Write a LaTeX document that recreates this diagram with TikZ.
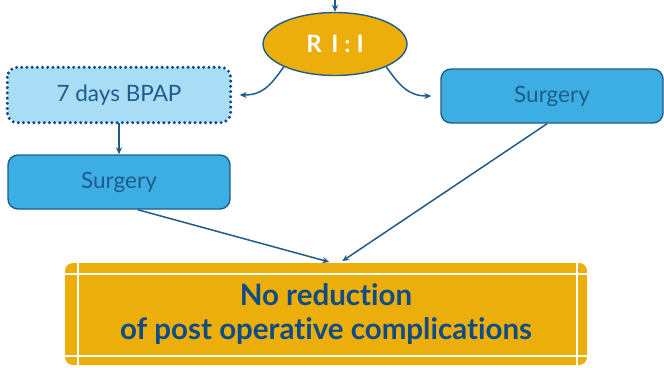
\documentclass[tikz,border=0pt]{standalone}
\usepackage{fontspec}
\setmainfont{Lato}[Ligatures=CommonOff]
\usetikzlibrary{arrows.meta,shapes.geometric}
\definecolor{oro}{HTML}{EBAE0B}
\definecolor{blu}{HTML}{1F5C8C}
\definecolor{bluscuro}{HTML}{0E4C86}
\definecolor{celeste}{HTML}{3CAEE3}
\definecolor{celchiaro}{HTML}{A9DDF6}
\tikzset{
  box/.style={draw=blu, line width=1.4pt, rounded corners=10pt, fill=celeste,
    minimum width=222pt, minimum height=54pt, text=blu, font=\fontsize{22.5}{24}\selectfont},
  freccia/.style={blu, line width=1.5pt, -{Stealth[length=7pt,width=6pt]}},
  bianca/.style={white, line width=1.8pt}
}
\begin{document}
\begin{tikzpicture}[x=1pt, y=-1pt]
        \useasboundingbox (0,0) rectangle (664,367);
        % randomizzazione
        \node[ellipse, draw=blu, line width=1.4pt, fill=oro, minimum width=144pt, minimum height=63pt,
          inner sep=0pt, text=white, font=\fontsize{24}{26}\selectfont\bfseries] (ri) at (335,44)
          {R\hspace{0.4em}I\hspace{0.25em}:\hspace{0.25em}I};
        \coordinate (top) at (335,0);
        \draw[freccia] (top) -- (ri.north);
        % bracci
        \node[box, fill=celchiaro, draw=none] (bpap) at (119,95) {7 days BPAP};
        \draw[bluscuro, line width=3.4pt, line cap=round, dash pattern=on 0pt off 5.2pt, rounded corners=10pt]
          (bpap.north west) rectangle (bpap.south east);
        \node[box] (sl) at (119,182) {Surgery};
        \node[box] (sr) at (552,96) {Surgery};
        \draw[freccia] (ri.204) .. controls +(-14,20) and +(22,0) .. ([xshift=9pt]bpap.east);
        \draw[freccia] (ri.336) .. controls +(14,20) and +(-22,0) .. ([xshift=-9pt]sr.west);
        \draw[freccia] (bpap.south) -- (sl.north);
        % esito
        \node[fill=oro, rounded corners=8pt, minimum width=522pt, minimum height=102pt, align=center,
          text=bluscuro, font=\fontsize{29.5}{34}\selectfont\bfseries] (out) at (326,314)
          {No reduction\\of post operative complications};
        \draw[bianca] ([xshift=13pt]out.north west) -- ([xshift=13pt]out.south west);
        \draw[bianca] ([xshift=-10pt]out.north east) -- ([xshift=-10pt]out.south east);
        \draw[bianca] ([yshift=-11pt]out.north west) -- ([yshift=-11pt]out.north east);
        \draw[bianca] ([yshift=9pt]out.south west) -- ([yshift=9pt]out.south east);
        \draw[freccia, shorten >=3pt] (sl.-56) -- (out.83);
        \draw[freccia, shorten >=3pt] (sr.-100) -- (out.75);
    \end{tikzpicture}
\end{document}
